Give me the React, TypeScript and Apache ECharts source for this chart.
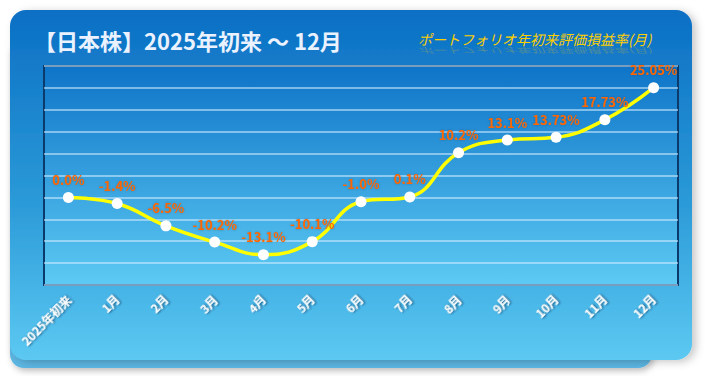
import React, { useEffect, useRef } from "react";
import * as echarts from "echarts";

const categories = ["2025年初来", "1月", "2月", "3月", "4月", "5月", "6月", "7月", "8月", "9月", "10月", "11月", "12月"];
const values = [0.0, -1.4, -6.5, -10.2, -13.1, -10.1, -1.0, 0.1, 10.2, 13.1, 13.73, 17.73, 25.05];
const valueLabels = ["0.0%", "-1.4%", "-6.5%", "-10.2%", "-13.1%", "-10.1%", "-1.0%", "0.1%", "10.2%", "13.1%", "13.73%", "17.73%", "25.05%"];
const titleText = "【日本株】2025年初来 ～ 12月";
const subtitleText = "ポートフォリオ年初来評価損益率(月)";

const FONT = "'Noto Sans CJK JP', 'Noto Sans', sans-serif";

export default function App() {
  const ref = useRef<HTMLDivElement>(null);
  useEffect(() => {
    if (!ref.current) return;
    const chart = echarts.init(ref.current, undefined, { renderer: "svg" });
    const LG = echarts.graphic.LinearGradient;
    chart.setOption({
      animation: false,
      backgroundColor: "#ffffff",
      graphic: [
        {
          type: "rect",
          z: -10,
          shape: { x: 10, y: 40, width: 642, height: 328, r: 14 },
          style: {
            fill: "#5bb6e2",
            shadowColor: "rgba(0,0,0,0.25)",
            shadowBlur: 6,
            shadowOffsetX: 2,
            shadowOffsetY: 3,
          },
        },
        {
          type: "rect",
          z: -9,
          shape: { x: 10, y: 10, width: 682, height: 350, r: 16 },
          style: {
            fill: new LG(0, 0, 0, 1, [
              { offset: 0, color: "#0b6fc4" },
              { offset: 0.55, color: "#2b9ad8" },
              { offset: 1, color: "#5cc9f2" },
            ]),
            shadowColor: "rgba(0,0,0,0.22)",
            shadowBlur: 8,
            shadowOffsetX: 4,
            shadowOffsetY: 2,
          },
        },
        {
          type: "text",
          z: 10,
          x: 34,
          y: 40,
          style: {
            text: titleText,
            fill: "#eaf2ff",
            font: `bold 22px ${FONT}`,
            verticalAlign: "middle",
            shadowColor: "rgba(0,20,60,0.6)",
            shadowBlur: 3,
            shadowOffsetX: 1,
            shadowOffsetY: 1,
          },
        },
        {
          type: "text",
          z: 10,
          x: 418,
          y: 46,
          style: {
            text: subtitleText,
            fill: "#ffd000",
            font: `italic 14px ${FONT}`,
            verticalAlign: "bottom",
          },
        },
        {
          type: "text",
          z: 10,
          x: 418,
          y: 46,
          scaleY: -0.6,
          style: {
            text: subtitleText,
            fill: "rgba(255,208,0,0.25)",
            font: `italic 14px ${FONT}`,
            verticalAlign: "bottom",
          },
        },
      ],
      grid: {
        left: 44,
        right: 30,
        top: 66,
        bottom: 91,
        show: true,
        borderColor: "#0b3a6c",
        borderWidth: 2,
        backgroundColor: new LG(0, 0, 0, 1, [
          { offset: 0, color: "#0e74c8" },
          { offset: 1, color: "#5ccaf3" },
        ]),
      },
      xAxis: {
        type: "category",
        data: categories,
        boundaryGap: true,
        axisLine: { show: false },
        axisTick: { show: false },
        splitLine: { show: false },
        axisLabel: {
          rotate: 45,
          margin: 12,
          interval: 0,
          color: "#ffffff",
          fontFamily: FONT,
          fontWeight: "bold",
          fontSize: 12,
          textShadowColor: "rgba(0,30,70,0.7)",
          textShadowBlur: 2,
          textShadowOffsetX: 1,
          textShadowOffsetY: 1,
        },
      },
      yAxis: {
        type: "value",
        min: -20,
        max: 30,
        interval: 5,
        axisLine: { show: false },
        axisTick: { show: false },
        axisLabel: { show: false },
        splitLine: { show: true, lineStyle: { color: "rgba(210,235,255,0.75)", width: 1.5 } },
      },
      series: [
        {
          type: "line",
          data: values,
          smooth: 0.45,
          symbol: "circle",
          symbolSize: 11,
          lineStyle: { color: "#ffff00", width: 3.5 },
          itemStyle: { color: "#ffffff" },
          label: {
            show: true,
            position: "top",
            distance: 6,
            formatter: (p: any) => valueLabels[p.dataIndex],
            color: "#ff6600",
            fontFamily: FONT,
            fontWeight: "bold",
            fontSize: 13,
            textShadowColor: "rgba(0,0,0,0.25)",
            textShadowBlur: 2,
          },
          z: 5,
        },
      ],
    });
    return () => chart.dispose();
  }, []);
  return (
    <div
      ref={ref}
      style={{ position: "fixed", left: 0, top: 0, width: 708, height: 376 }}
    />
  );
}
